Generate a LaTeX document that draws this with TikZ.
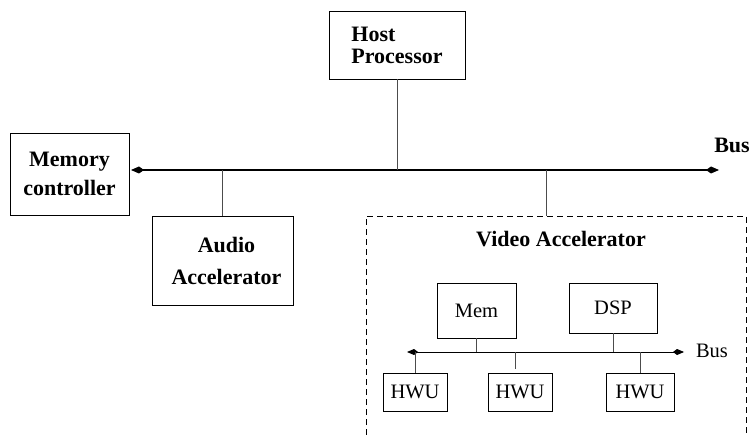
\documentclass[tikz,border=0pt]{standalone}
\usepackage{fontspec}
\setmainfont{Liberation Serif}
\usepackage{tikz}
\usetikzlibrary{arrows.meta,calc}

\tikzset{
  blk/.style={draw, line width=0.8pt, inner sep=0pt},
  bigtxt/.style={font=\fontsize{22}{28}\selectfont\bfseries},
  smalltxt/.style={font=\fontsize{20.5}{24}\selectfont},
  link/.style={line width=0.8pt, draw=black!70},
  bus/.style={line width=1.4pt, {Kite[length=13pt,width=7pt,inset=5pt]}-{Kite[length=13pt,width=7pt,inset=5pt]}},
  ibus/.style={line width=0.9pt, {Kite[length=11pt,width=6pt,inset=4pt]}-{Kite[length=11pt,width=6pt,inset=4pt]}}
}

\begin{document}
\begin{tikzpicture}[x=1pt,y=-1pt]
\useasboundingbox (0,0) rectangle (751,435);

\node[blk, bigtxt, align=left, minimum width=136pt, minimum height=68pt,
  font=\fontsize{22}{22}\selectfont\bfseries] (host) at (397,45) {Host\\Processor};
\node[blk, bigtxt, align=center, minimum width=119pt, minimum height=82pt,
  font=\fontsize{22}{29}\selectfont\bfseries] (memc) at (69.5,174) {Memory\\controller};
\node[blk, bigtxt, align=center, minimum width=141pt, minimum height=89pt,
  font=\fontsize{22}{32}\selectfont\bfseries] (audio) at (222.5,260.5) {\hspace*{8pt}Audio\\\hspace*{8pt}Accelerator};

\coordinate (busL) at (131,170);
\coordinate (busR) at (719,170);
\coordinate (vtap) at (546,170);
\coordinate (vtop) at (546,216);
\node[bigtxt] (buslbl) at (732,145) {Bus};

\draw[bus] (busL) -- (busR);
\draw[link] (host.south) -- (host.south |- busL);
\draw[link] (audio.north) -- (audio.north |- busL);
\draw[link] (vtap) -- (vtop);

\draw[line width=0.8pt, dash pattern=on 6pt off 4pt] (366,435) -- (366,216) -- (746,216) -- (746,435);
\node[bigtxt] (vidlbl) at (561,239) {Video Accelerator};

\node[blk, smalltxt, minimum width=79pt, minimum height=55pt] (mem) at (476.5,310.5) {Mem};
\node[blk, smalltxt, minimum width=88pt, minimum height=50pt] (dsp) at (613,308) {DSP};
\node[blk, smalltxt, minimum width=64pt, minimum height=38pt] (hwua) at (415,392) {HWU};
\node[blk, smalltxt, minimum width=64pt, minimum height=38pt] (hwub) at (520,392) {HWU};
\node[blk, smalltxt, minimum width=68pt, minimum height=38pt] (hwuc) at (640,392) {HWU};

\coordinate (ibL) at (407,352);
\coordinate (ibR) at (684,352);
\coordinate (stub) at (515,369);
\node[smalltxt] (ibuslbl) at (712,351) {Bus};

\draw[ibus] (ibL) -- (ibR);
\draw[link] (mem.south) -- (mem.south |- ibL);
\draw[link] (dsp.south) -- (dsp.south |- ibL);
\draw[link] (hwua.north) -- (hwua.north |- ibL);
\draw[link] (stub |- ibL) -- (stub);
\draw[link] (hwuc.north) -- (hwuc.north |- ibL);
\end{tikzpicture}
\end{document}
